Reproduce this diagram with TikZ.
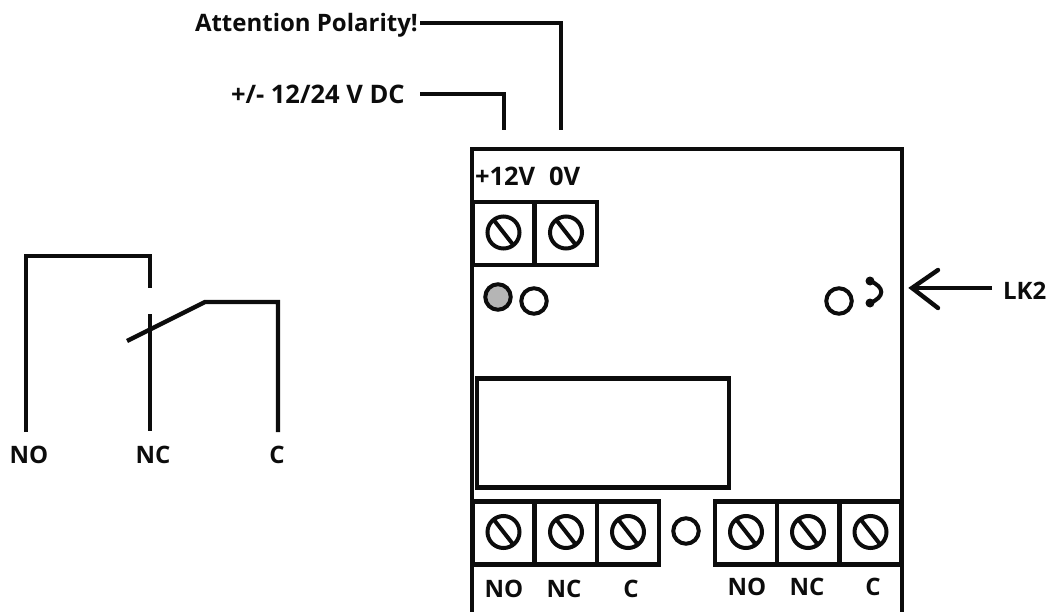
\documentclass[tikz,border=0pt]{standalone}
\usepackage{fontspec}
\setmainfont{Open Sans}
\definecolor{ink}{HTML}{0C0C0C}
\definecolor{ledgrey}{HTML}{B5B5B5}
\tikzset{
  x=1pt,y=-1pt,
  wire/.style={draw=ink,line width=4.4pt,line join=miter},
  cell/.style={draw=ink,line width=4.2pt,rectangle,inner sep=0,outer sep=0,minimum width=62pt,minimum height=63pt},
  screw/.style={draw=ink,line width=4pt,circle,inner sep=0,outer sep=0,minimum size=32pt},
  lamp/.style={draw=ink,line width=4pt,circle,inner sep=0,outer sep=0,fill=white,minimum size=25.5pt},
  lbl/.style={inner sep=0,outer sep=0,anchor=base,text=ink,font=\fontsize{24}{26}\selectfont\bfseries},
  lblbig/.style={lbl,font=\fontsize{25.5}{27}\selectfont\bfseries},
}
\newcommand{\termcell}[3]{%
  \node[cell] (#1) at (#2,#3) {};
  \node[screw] (#1s) at (#2,#3-1) {};
  \draw[draw=ink,line width=4pt] (#1s.128) -- (#1s.-52);
}
\begin{document}
\begin{tikzpicture}
\useasboundingbox (0,0) rectangle (1051,612);
% housing
\coordinate (hbl) at (472,612);
\coordinate (hbr) at (902,612);
\draw[wire] (hbl) -- (472,149) -- (902,149) -- (hbr);
% top terminals
\termcell{ta}{503.5}{233.5}
\termcell{tb}{566}{233.5}
% bottom left
\termcell{ba}{503.5}{533}
\termcell{bb}{566}{533}
\termcell{bc}{628}{533}
% bottom right
\termcell{ca}{746}{533}
\termcell{cb}{808}{533}
\termcell{cc}{870.5}{533}
% relay
\node[draw=ink,line width=4.2pt,rectangle,inner sep=0,outer sep=0,minimum width=252pt,minimum height=109pt] (relay) at (603,433) {};
% lamps
\node[lamp,fill=ledgrey] (ledA) at (498,297) {};
\node[lamp] (ledB) at (534,301) {};
\node[lamp] (ledC) at (839,301) {};
\node[lamp] (ledD) at (686,531) {};
% jumper
\node[circle,fill=ink,inner sep=0,outer sep=0,minimum size=9pt] (jA) at (870,281) {};
\node[circle,fill=ink,inner sep=0,outer sep=0,minimum size=9pt] (jB) at (870,303) {};
\draw[draw=ink,line width=4pt] (jA.center) .. controls (885,287) and (885,297) .. (jB.center);
% LK2
\node[lbl,anchor=base west] (lk) at (1003,299) {LK2};
\coordinate (tip) at (912,288);
\coordinate (armA) at (938,270);
\coordinate (armB) at (938,308);
\coordinate (shaft) at (992,288);
\draw[wire] (shaft) -- (tip);
\draw[wire,line cap=round] (armA) -- (tip) -- (armB);
% top labels and wires
\node[lbl,anchor=base west] (att) at (195,32) {Attention Polarity!};
\node[lblbig,anchor=base west] (pm) at (231,104) {+/- 12/24 V DC};
\coordinate (attS) at (420,23);
\coordinate (attE) at (561,130);
\coordinate (pmS) at (420,94);
\coordinate (pmE) at (504,130);
\draw[wire] (attS) -| (attE);
\draw[wire] (pmS) -| (pmE);
\node[lblbig,anchor=base west] (p12) at (475,186) {+12V};
\node[lblbig,anchor=base west] (p0) at (549,186) {0V};
% terminal labels
\node[lbl] (l1) at (504,597) {NO};
\node[lbl] (l2) at (564,597) {NC};
\node[lbl] (l3) at (631,597) {C};
\node[lbl] (l4) at (747,595) {NO};
\node[lbl] (l5) at (807,595) {NC};
\node[lbl] (l6) at (873,595) {C};
% switch
\node[lbl] (sNO) at (29,463) {NO};
\node[lbl] (sNC) at (153,463) {NC};
\node[lbl] (sC) at (277,463) {C};
\coordinate (sa) at (26,432);
\coordinate (sb) at (150,288);
\coordinate (sc) at (150,314);
\coordinate (sd) at (150,431);
\coordinate (se) at (127,341);
\coordinate (sf) at (205,302);
\coordinate (sg) at (278,432);
\draw[wire] (sa) |- (150,256) -- (sb);
\draw[wire] (sc) -- (sd);
\draw[wire] (se) -- (sf) -| (sg);
\end{tikzpicture}
\end{document}
